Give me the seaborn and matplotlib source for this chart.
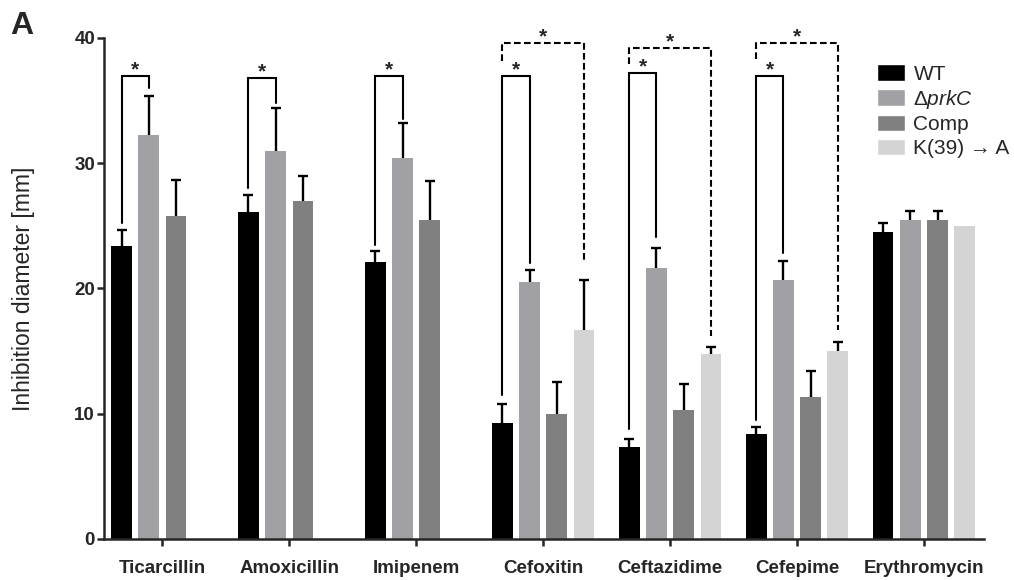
import numpy as np
import pandas as pd
import matplotlib
matplotlib.use('Agg')
import matplotlib.pyplot as plt
import seaborn as sns
from matplotlib.patches import Patch

antibiotics = ['Ticarcillin', 'Amoxicillin', 'Imipenem', 'Cefoxitin',
               'Ceftazidime', 'Cefepime', 'Erythromycin']
strains = ['WT', 'prkC', 'Comp', 'K39A']
strain_labels = ['WT', r'$\Delta\mathit{prkC}$', 'Comp', 'K(39) → A']
strain_colors = ['#000000', '#a1a1a5', '#808080', '#d4d4d4']

# mean inhibition diameter (mm) and upper error per strain
wt = [23.4, 26.1, 22.1, 9.25, 7.35, 8.35, 24.5]
wt_err = [1.3, 1.4, 0.9, 1.5, 0.6, 0.6, 0.7]
prkc = [32.25, 31.0, 30.4, 20.5, 21.65, 20.65, 25.5]
prkc_err = [3.1, 3.4, 2.8, 1.0, 1.55, 1.55, 0.7]
comp = [25.8, 27.0, 25.5, 10.0, 10.3, 11.3, 25.5]
comp_err = [2.9, 2.0, 3.1, 2.5, 2.1, 2.1, 0.7]
k39a = [np.nan, np.nan, np.nan, 16.7, 14.75, 15.0, 25.0]
k39a_err = [np.nan, np.nan, np.nan, 4.0, 0.55, 0.75, np.nan]

# significance brackets: (antibiotic index, top, left leg bottom, right leg bottom)
solid_brackets = [(0, 37.0, 25.2, 36.0),
                  (1, 36.8, 28.0, 34.8),
                  (2, 37.0, 23.5, 33.5),
                  (3, 37.0, 11.5, 22.0),
                  (4, 37.2, 8.8, 24.1),
                  (5, 37.0, 9.5, 22.8)]
dashed_brackets = [(3, 39.6, 38.2, 22.0),
                   (4, 39.2, 37.9, 16.2),
                   (5, 39.6, 38.3, 16.7)]

values = [wt, prkc, comp, k39a]
errors = [wt_err, prkc_err, comp_err, k39a_err]

rows = []
for s, vals, errs in zip(strains, values, errors):
    for ab, v, e in zip(antibiotics, vals, errs):
        rows.append({'antibiotic': ab, 'strain': s, 'diameter': v, 'err': e})
df = pd.DataFrame(rows)

sns.set_style('ticks')
plt.rcParams['font.family'] = ['Liberation Sans', 'DejaVu Sans']
plt.rcParams['mathtext.fontset'] = 'custom'
plt.rcParams['mathtext.rm'] = 'Liberation Sans'
plt.rcParams['mathtext.it'] = 'Liberation Sans:italic'

fig, ax = plt.subplots(figsize=(10.14, 5.8), dpi=100)
fig.subplots_adjust(left=0.1026, right=0.9704, bottom=0.0707, top=0.9345)

sns.barplot(data=df, x='antibiotic', y='diameter', hue='strain',
            order=antibiotics, hue_order=strains, palette=strain_colors,
            width=0.857, gap=0.24, errorbar=None, linewidth=0, ax=ax)

# bar centres from the drawn patches
pos = {}
for cont, s in zip(ax.containers, strains):
    for bar in cont:
        xc = bar.get_x() + bar.get_width() / 2
        pos[(int(round(xc)), s)] = xc

# upper error bars only
for s, vals, errs in zip(strains, values, errors):
    xs, ys, es = [], [], []
    for i, (v, e) in enumerate(zip(vals, errs)):
        if np.isnan(v) or np.isnan(e):
            continue
        xs.append(pos[(i, s)])
        ys.append(v)
        es.append(e)
    es = np.array(es)
    _, caps, _ = ax.errorbar(xs, ys, yerr=[np.zeros_like(es), es], fmt='none',
                             ecolor='black', elinewidth=1.7, capsize=3.5,
                             capthick=1.7, zorder=3)
    caps[0].set_visible(False)

for i, top, lb, rb in solid_brackets:
    x1, x2 = pos[(i, 'WT')], pos[(i, 'prkC')]
    ax.plot([x1, x1, x2, x2], [lb, top, top, rb], color='black', lw=1.5,
            solid_joinstyle='miter', zorder=4)
    ax.text((x1 + x2) / 2, top + 0.05, '*', ha='center', va='baseline',
            fontsize=15, fontweight='bold')

for i, top, lb, rb in dashed_brackets:
    x1, x2 = pos[(i, 'WT')], pos[(i, 'K39A')]
    ax.plot([x1, x1, x2, x2], [lb, top, top, rb], color='black', lw=1.5,
            linestyle=(0, (3.2, 1.6)), zorder=4)
    ax.text((x1 + x2) / 2, top + 0.05, '*', ha='center', va='baseline',
            fontsize=15, fontweight='bold')

ax.set_xlim(-0.459, 6.473)
ax.set_ylim(0, 40)
ax.set_yticks([0, 10, 20, 30, 40])
ax.set_xlabel('')
ax.set_ylabel('Inhibition diameter [mm]', fontsize=16.5)
ax.yaxis.set_label_coords(-0.079, 0.5)
sns.despine(ax=ax)
for sp in ['left', 'bottom']:
    ax.spines[sp].set_linewidth(1.8)
ax.tick_params(axis='both', direction='out', length=5, width=1.8)
ax.tick_params(axis='y', pad=1.5, labelsize=13.5)
ax.tick_params(axis='x', pad=10, labelsize=13.5)
for lab in ax.get_xticklabels() + ax.get_yticklabels():
    lab.set_fontweight('bold')

handles = [Patch(facecolor=c, label=l) for c, l in zip(strain_colors, strain_labels)]
ax.legend(handles=handles, loc='upper left', bbox_to_anchor=(877 / 1014, 1 - 64 / 580),
          bbox_transform=fig.transFigure, frameon=False, fontsize=15,
          handlelength=1.35, handleheight=0.85, handletextpad=0.4,
          labelspacing=0.2, borderpad=0, borderaxespad=0)

fig.text(10 / 1014, 1 - 34 / 580, 'A', fontsize=23, fontweight='bold', va='baseline')

fig.savefig('out.png', dpi=100)
